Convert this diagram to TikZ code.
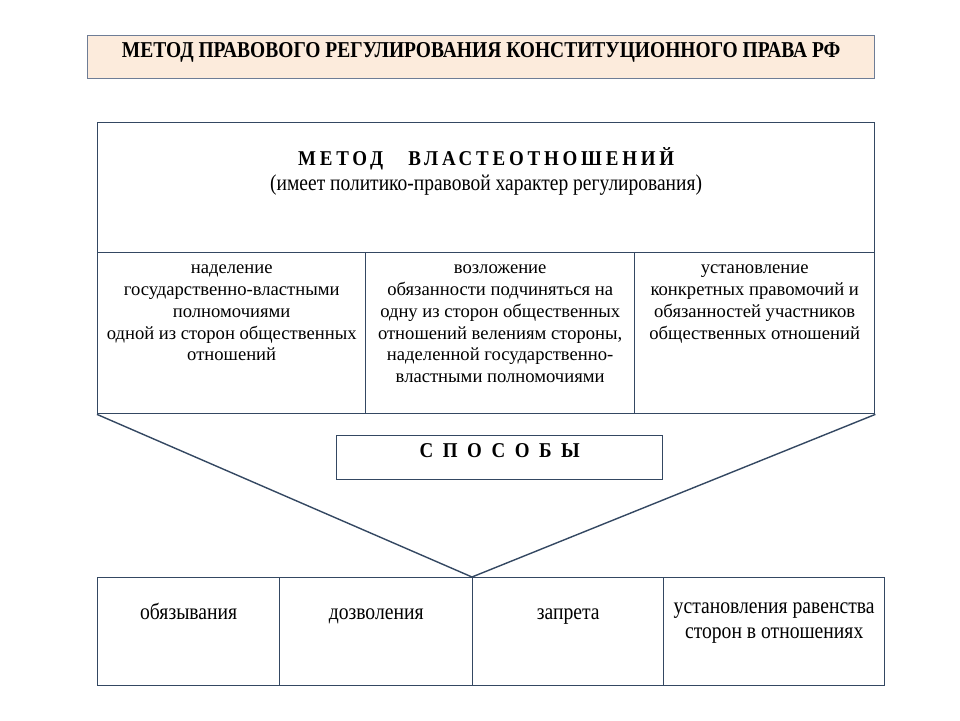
\documentclass[tikz,border=0pt]{standalone}
\usepackage{fontspec}
\setmainfont{Liberation Serif}
\newfontfamily\cellfont{Liberation Serif}
\newfontfamily\narrowfont[FakeStretch=0.86]{Liberation Serif}
\newfontfamily\spacedfont[FakeStretch=0.9,LetterSpace=18]{Liberation Serif}
\newfontfamily\widefont[FakeStretch=0.9,LetterSpace=45]{Liberation Serif}
\usetikzlibrary{positioning}

\definecolor{frame}{RGB}{52,72,98}
\definecolor{titleframe}{RGB}{110,125,150}
\definecolor{peach}{RGB}{252,235,220}

\begin{document}
\begin{tikzpicture}[
  x=0.02cm, y=-0.02cm,
  box/.style={rectangle, draw=frame, line width=0.8pt, anchor=north west, inner sep=0pt},
  cell/.style={font=\cellfont\fontsize{10.6}{12.5}\selectfont, align=center, inner sep=0pt, execute at begin node=\strut},
  narrow/.style={font=\narrowfont\fontsize{13}{14.2}\selectfont, align=center, inner sep=0pt, execute at begin node=\strut},
  caption/.style={font=\bfseries, align=center, inner sep=0pt, execute at begin node=\strut},
]

\useasboundingbox (0,0) rectangle (960,720);

% === Title ===
\node[box, draw=titleframe, fill=peach, minimum width=15.74cm, minimum height=0.86cm] (title) at (87,35) {};
\node[caption, font=\narrowfont\bfseries\fontsize{12.9}{14}\selectfont, below=0.1cm of title.north] {МЕТОД  ПРАВОВОГО  РЕГУЛИРОВАНИЯ  КОНСТИТУЦИОННОГО  ПРАВА  РФ};

% === Method box ===
\node[box, minimum width=15.54cm, minimum height=2.6cm] (head) at (97,122) {};
\node[caption, font=\spacedfont\bfseries\fontsize{12}{14}\selectfont, below=0.5cm of head.north] (headtxt) {МЕТОД\hspace{1.2em}ВЛАСТЕОТНОШЕНИЙ};
\node[narrow, font=\narrowfont\fontsize{12.9}{14}\selectfont, below=0pt of headtxt] {(имеет  политико-правовой  характер  регулирования)};

\node[box, minimum width=5.36cm, minimum height=3.22cm] (cellA) at (97,252) {};
\node[box, minimum width=5.38cm, minimum height=3.22cm] (cellB) at (365,252) {};
\node[box, minimum width=4.8cm, minimum height=3.22cm] (cellC) at (634,252) {};

\node[cell, below=0.24cm of cellA.north] {наделение\\государственно-властными\\полномочиями\\одной из сторон общественных\\отношений};
\node[cell, below=0.24cm of cellB.north] {возложение\\обязанности подчиняться на\\одну из сторон общественных\\отношений велениям стороны,\\наделенной государственно-\\властными полномочиями};
\node[cell, below=0.24cm of cellC.north] {установление\\конкретных правомочий и\\обязанностей участников\\общественных отношений};

% === Ways ===
\node[box, minimum width=6.52cm, minimum height=0.88cm] (ways) at (336,435) {};
\node[caption, font=\widefont\bfseries\fontsize{12}{14}\selectfont, below=0.1cm of ways.north] {СПОСОБЫ};

% === Bottom row ===
\node[box, minimum width=3.64cm, minimum height=2.16cm] (lowA) at (97,577) {};
\node[box, minimum width=3.86cm, minimum height=2.16cm] (lowB) at (279,577) {};
\node[box, minimum width=3.82cm, minimum height=2.16cm] (lowC) at (472,577) {};
\node[box, minimum width=4.42cm, minimum height=2.16cm] (lowD) at (663,577) {};

\node[narrow, below=0.5cm of lowA.north] {обязывания};
\node[narrow, below=0.5cm of lowB.north] {дозволения};
\node[narrow, below=0.5cm of lowC.north] {запрета};
\node[narrow, below=0.5cm of lowD.north] {установления  равенства\\сторон  в отношениях};

% === Funnel ===
\draw[frame, line width=0.8pt] (cellA.south west) -- (lowC.north west) -- (cellC.south east);

\end{tikzpicture}
\end{document}
